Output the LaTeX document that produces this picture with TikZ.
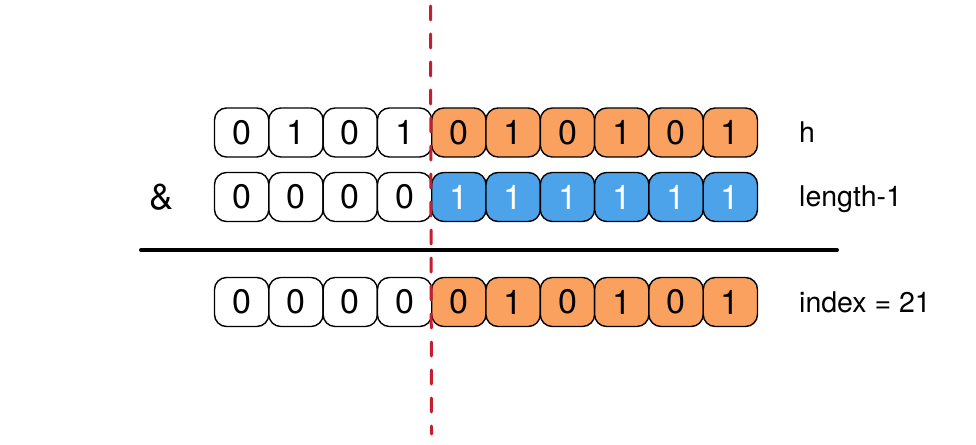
\documentclass[tikz,border=0pt]{standalone}
\usepackage{fontspec}
\setmainfont{TeX Gyre Heros}
\definecolor{boxorange}{RGB}{250,161,96}
\definecolor{boxblue}{RGB}{76,163,234}
\definecolor{cutred}{RGB}{196,30,48}
\begin{document}
\begin{tikzpicture}[x=1pt,y=-1pt,
  bit/.style={draw=black,line width=1.4pt,rounded corners=12pt,minimum width=54.3pt,minimum height=49pt,inner sep=0pt,font=\fontsize{34}{34}\selectfont},
  wbit/.style={bit,fill=white},
  obit/.style={bit,fill=boxorange},
  bbit/.style={bit,fill=boxblue,text=white},
  lbl/.style={anchor=base west,inner sep=0pt,font=\fontsize{28.5}{28.5}\selectfont}]
\useasboundingbox (0,0) rectangle (976,444);
% row 1: h
\foreach \i/\v in {0/0,1/1,2/0,3/1}
  \node[wbit] (a\i) at ({214.5+54.3*(\i+0.5)},132.5) {\v};
\foreach \i/\v in {4/0,5/1,6/0,7/1,8/0,9/1}
  \node[obit] (a\i) at ({214.5+54.3*(\i+0.5)},132.5) {\v};
% row 2: length-1
\foreach \i in {0,1,2,3}
  \node[wbit] (b\i) at ({214.5+54.3*(\i+0.5)},197) {0};
\foreach \i in {4,...,9}
  \node[bbit] (b\i) at ({214.5+54.3*(\i+0.5)},197) {1};
% row 3: index
\foreach \i in {0,1,2,3}
  \node[wbit] (c\i) at ({214.5+54.3*(\i+0.5)},302) {0};
\foreach \i/\v in {4/0,5/1,6/0,7/1,8/0,9/1}
  \node[obit] (c\i) at ({214.5+54.3*(\i+0.5)},302) {\v};
% labels
\node[lbl] (lh) at (799,142.5) {h};
\node[lbl] (ll) at (799,206.5) {length-1};
\node[lbl] (li) at (799,312.5) {index = 21};
\node[inner sep=0pt,font=\fontsize{36}{36}\selectfont] (amp) at (161.5,197) {\&};
% result line
\coordinate (r1) at (141,250);
\coordinate (r2) at (837,250);
\draw[line width=4pt,line cap=round] (r1) -- (r2);
% red dashed cut
\coordinate (d1) at (430.5,6);
\coordinate (d2) at (431.5,434);
\draw[cutred,line width=3pt,line cap=round,dash pattern=on 14pt off 14pt] (d1) -- (d2);
\end{tikzpicture}
\end{document}
